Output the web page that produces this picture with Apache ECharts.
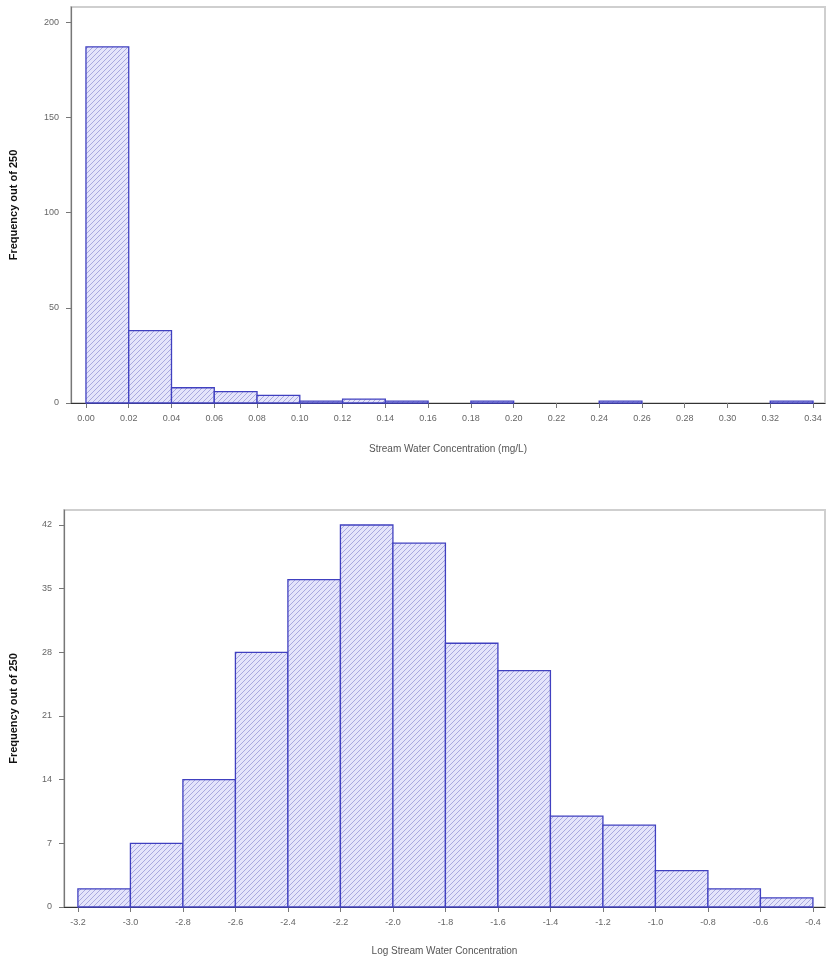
<!DOCTYPE html>
<html>
<head>
<meta charset="utf-8">
<script src="https://cdn.jsdelivr.net/npm/echarts@6/dist/echarts.min.js"></script>
<style>
html,body{margin:0;padding:0;background:#fff;}
#chart{width:830px;height:969px;}
</style>
</head>
<body>
<div id="chart"></div>
<script>
// ---- data ----
const topEdges = [0.00,0.02,0.04,0.06,0.08,0.10,0.12,0.14,0.16,0.18,0.20,0.22,0.24,0.26,0.28,0.30,0.32,0.34];
const topCounts = [187,38,8,6,4,1,2,1,0,1,0,0,1,0,0,0,1];
const topXTicks = [0.00,0.02,0.04,0.06,0.08,0.10,0.12,0.14,0.16,0.18,0.20,0.22,0.24,0.26,0.28,0.30,0.32,0.34];
const topYTicks = [0,50,100,150,200];

const botEdges = [-3.2,-3.0,-2.8,-2.6,-2.4,-2.2,-2.0,-1.8,-1.6,-1.4,-1.2,-1.0,-0.8,-0.6,-0.4];
const botCounts = [2,7,14,28,36,42,40,29,26,10,9,4,2,1];
const botXTicks = [-3.2,-3.0,-2.8,-2.6,-2.4,-2.2,-2.0,-1.8,-1.6,-1.4,-1.2,-1.0,-0.8,-0.6,-0.4];
const botYTicks = [0,7,14,21,28,35,42];

const yName = 'Frequency out of 250';
const topXName = 'Stream Water Concentration (mg/L)';
const botXName = 'Log Stream Water Concentration';

// ---- hatch pattern ----
function makePattern(){
  const c = document.createElement('canvas');
  const s = 5;
  c.width = s; c.height = s;
  const g = c.getContext('2d');
  g.fillStyle = '#e4e4fb';
  g.fillRect(0,0,s,s);
  g.strokeStyle = 'rgba(120,120,200,0.55)';
  g.lineWidth = 1;
  g.beginPath();
  g.moveTo(-1, s+1); g.lineTo(s+1, -1);
  g.moveTo(-1-s, s+1); g.lineTo(1, -1);
  g.moveTo(s-1, 2*s+1); g.lineTo(2*s+1, s-1);
  g.stroke();
  return c;
}
const patternCanvas = makePattern();

function binsData(edges, counts){
  const out = [];
  for (let i = 0; i < counts.length; i++) {
    if (counts[i] > 0) out.push([edges[i], edges[i+1], counts[i]]);
  }
  return out;
}

function renderBar(params, api){
  const x0 = api.value(0), x1 = api.value(1), y = api.value(2);
  const p0 = api.coord([x0, y]);
  const p1 = api.coord([x1, 0]);
  return {
    type: 'rect',
    shape: {x: p0[0], y: p0[1], width: p1[0]-p0[0], height: p1[1]-p0[1]},
    style: {
      fill: {image: patternCanvas, repeat: 'repeat'},
      stroke: '#4040c0',
      lineWidth: 1.3
    }
  };
}

const labelStyle = {color:'#666', fontSize:9, fontFamily:'Liberation Sans, Arial, sans-serif'};

function xAxisCfg(gridIndex, min, max, ticks, name, gap, digits){
  return {
    type:'value', gridIndex, min, max, name,
    nameLocation:'middle', nameGap: gap,
    nameTextStyle:{color:'#555', fontSize:10, fontFamily:'Liberation Sans, Arial, sans-serif'},
    splitLine:{show:false},
    axisLine:{show:true, onZero:false, lineStyle:{color:'#333', width:1.2}},
    axisTick:{show:true, inside:false, length:5, customValues: ticks, lineStyle:{color:'#777'}},
    axisLabel:Object.assign({margin:11, customValues: ticks, formatter: v => v.toFixed(digits)}, labelStyle)
  };
}
function yAxisCfg(gridIndex, min, max, ticks, gap){
  return {
    type:'value', gridIndex, min, max, name: yName,
    nameLocation:'middle', nameGap: gap,
    nameTextStyle:{color:'#111', fontSize:11, fontWeight:'bold', fontFamily:'Liberation Sans, Arial, sans-serif'},
    splitLine:{show:false},
    axisLine:{show:true, onZero:false, lineStyle:{color:'#777', width:1.2}},
    axisTick:{show:true, inside:false, length:5, customValues: ticks, lineStyle:{color:'#777'}},
    axisLabel:Object.assign({margin:12, customValues: ticks}, labelStyle)
  };
}

const chart = echarts.init(document.getElementById('chart'), null, {renderer:'canvas'});
chart.setOption({
  backgroundColor:'#fff',
  animation:false,
  grid:[
    {left:70, top:7, width:755, height:396, show:true, borderColor:'#cfcfcf', borderWidth:2, containLabel:false},
    {left:63, top:510, width:762, height:397, show:true, borderColor:'#cfcfcf', borderWidth:2, containLabel:false}
  ],
  xAxis:[
    xAxisCfg(0, -0.0070, 0.3456, topXTicks, topXName, 41, 2),
    xAxisCfg(1, -3.253, -0.354, botXTicks, botXName, 39, 1)
  ],
  yAxis:[
    yAxisCfg(0, 0, 207.9, topYTicks, 52),
    yAxisCfg(1, 0, 43.65, botYTicks, 45)
  ],
  series:[
    {type:'custom', xAxisIndex:0, yAxisIndex:0, renderItem: renderBar,
     encode:{x:[0,1], y:2}, data: binsData(topEdges, topCounts), clip:false},
    {type:'custom', xAxisIndex:1, yAxisIndex:1, renderItem: renderBar,
     encode:{x:[0,1], y:2}, data: binsData(botEdges, botCounts), clip:false}
  ]
});
</script>
</body>
</html>
